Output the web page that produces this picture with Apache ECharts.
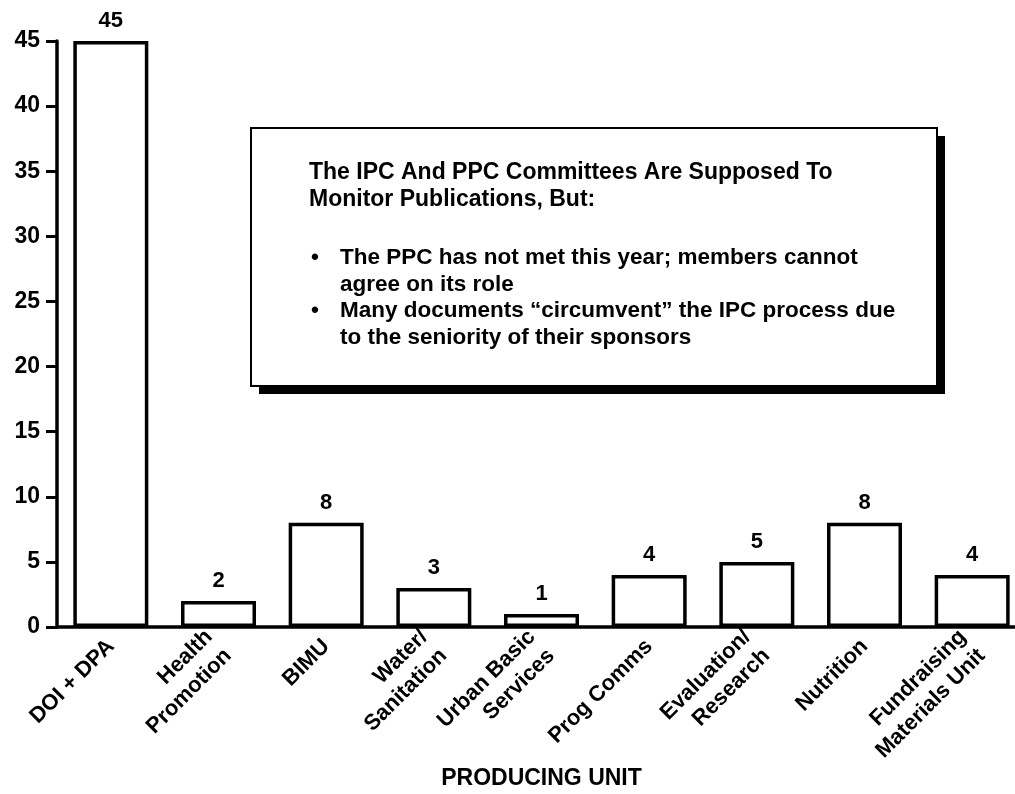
<!DOCTYPE html>
<html><head><meta charset="utf-8">
<script src="https://cdn.jsdelivr.net/npm/echarts@6/dist/echarts.min.js"></script>
<style>html,body{margin:0;padding:0;background:#fff}#c{width:1015px;height:794px}</style>
</head><body><div id="c"></div>
<script>
const categories = ["DOI + DPA","Health\nPromotion","BIMU","Water/\nSanitation","Urban Basic\nServices","Prog Comms","Evaluation/\nResearch","Nutrition","Fundraising\nMaterials Unit"];
const values = [45, 2, 8, 3, 1, 4, 5, 8, 4];
const yTicks = {min: 0, max: 45, interval: 5};
const noteTitle = ["The IPC And PPC Committees Are Supposed To", "Monitor Publications, But:"];
const noteBullets = [["The PPC has not met this year; members cannot", "agree on its role"], ["Many documents \u201ccircumvent\u201d the IPC process due", "to the seniority of their sponsors"]];
const xName = "PRODUCING UNIT";

const FONT = "Liberation Sans";
const chart = echarts.init(document.getElementById('c'), null, {renderer: 'canvas'});

const titleFont = 'bold 23px "Liberation Sans"';
const bulletFont = 'bold 22.5px "Liberation Sans"';
const textEls = [];
const titleY = [173, 200];
noteTitle.forEach((t, i) => textEls.push({type: 'text', x: 309, y: titleY[i], style: {text: t, font: titleFont, fill: '#000', textVerticalAlign: 'middle'}}));
const bulletY = [[258, 285], [311, 338]];
noteBullets.forEach((b, k) => {
  textEls.push({type: 'text', x: 315, y: bulletY[k][0], style: {text: '\u2022', font: bulletFont, fill: '#000', textAlign: 'center', textVerticalAlign: 'middle'}});
  b.forEach((t, i) => textEls.push({type: 'text', x: 340, y: bulletY[k][i], style: {text: t, font: bulletFont, fill: '#000', textVerticalAlign: 'middle'}}));
});

chart.setOption({
  animation: false,
  grid: {left: 57, width: 969, top: 41, bottom: 167, containLabel: false, outerBoundsMode: 'none'},
  xAxis: {
    type: 'category', data: categories,
    name: xName, nameLocation: 'middle', nameGap: 140, nameMoveOverlap: false,
    nameTextStyle: {fontFamily: FONT, fontSize: 23, fontWeight: 'bold', color: '#000'},
    axisLine: {lineStyle: {color: '#000', width: 3.5}},
    axisTick: {show: false},
    axisLabel: {interval: 0, rotate: 45, margin: 16, fontFamily: FONT, fontSize: 22, fontWeight: 'bold', color: '#000', lineHeight: 27}
  },
  yAxis: {
    type: 'value', min: yTicks.min, max: yTicks.max, interval: yTicks.interval,
    splitLine: {show: false},
    axisLine: {show: true, lineStyle: {color: '#000', width: 3.5}},
    axisTick: {show: true, length: 11, lineStyle: {color: '#000', width: 3}},
    axisLabel: {margin: 17, fontFamily: FONT, fontSize: 23, fontWeight: 'bold', color: '#000'}
  },
  series: [{
    type: 'bar', data: values, barWidth: 75,
    itemStyle: {color: '#fff', borderColor: '#000', borderWidth: 3.5},
    label: {show: true, position: 'top', distance: 9, fontFamily: FONT, fontSize: 22, fontWeight: 'bold', color: '#000'}
  }],
  graphic: [
    {type: 'rect', shape: {x: 259, y: 136, width: 686, height: 258}, style: {fill: '#000'}},
    {type: 'rect', shape: {x: 251, y: 128, width: 686, height: 258}, style: {fill: '#fff', stroke: '#000', lineWidth: 2}},
    ...textEls
  ]
});
</script></body></html>
